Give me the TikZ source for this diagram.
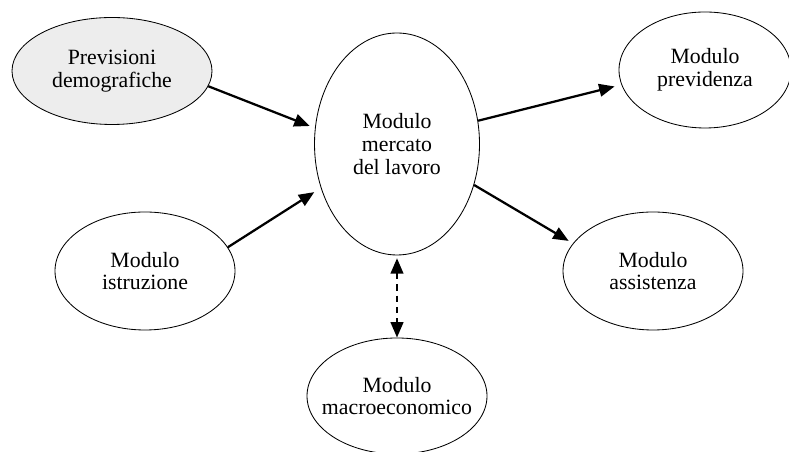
\documentclass[tikz,border=0pt]{standalone}
\usepackage{fontspec}
\setmainfont{Liberation Serif}
\usetikzlibrary{shapes.geometric,arrows.meta,positioning}

\begin{document}
\begin{tikzpicture}[
    font=\fontsize{15.5}{16.2}\selectfont,
    modulo/.style={ellipse, draw=black, line width=0.6pt, inner xsep=-0.4cm, inner ysep=0pt, align=center},
    input/.style={modulo, fill=black!7},
    flow/.style={-{Triangle[length=11pt,width=9pt]}, line width=1.6pt},
    link/.style={{Triangle[length=11pt,width=9pt]}-{Triangle[length=11pt,width=9pt]}, line width=1.6pt, dash pattern=on 4.5pt off 3.5pt}
]
\useasboundingbox (0,0) rectangle (19.725,11.3);

\node[input, minimum width=5cm, minimum height=2.675cm] (prev) at (2.8,9.525) {Previsioni\\demografiche};
\node[modulo, minimum width=4.125cm, minimum height=5.55cm] (merc) at (9.925,7.7) {Modulo\\mercato\\del lavoro};
\node[modulo, minimum width=4.3cm, minimum height=2.9cm] (previd) at (17.625,9.55) {Modulo\\previdenza};
\node[modulo, minimum width=4.5cm, minimum height=2.95cm] (istr) at (3.625,4.525) {Modulo\\istruzione};
\node[modulo, minimum width=4.5cm, minimum height=2.95cm] (assist) at (16.325,4.525) {Modulo\\assistenza};
\node[modulo, minimum width=4.5cm, minimum height=2.9cm] (macro) at (9.925,1.4) {Modulo\\macroeconomico};

\draw[flow, shorten >=4pt] (prev.-9) -- (merc.169.6);
\draw[flow, shorten >=5.5pt] (istr.16) -- (merc.210.8);
\draw[flow, shorten >=5pt] (merc.16.5) -- (previd.190.4);
\draw[flow, shorten >=3.5pt] (merc.-28.3) -- (assist.161.9);
\draw[link, shorten <=2pt] (merc.south) -- (macro.north);

\end{tikzpicture}
\end{document}
